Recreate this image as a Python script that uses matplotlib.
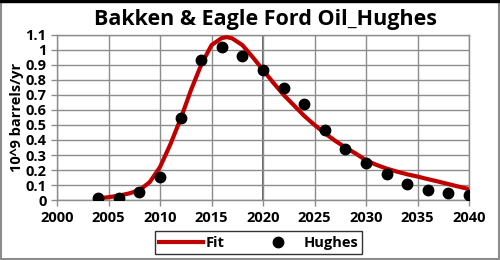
import matplotlib
matplotlib.use("Agg")
import matplotlib.pyplot as plt
from matplotlib.patches import Rectangle

# Hughes forecast points
hughes_years = [2004, 2006, 2008, 2010, 2012, 2014, 2016, 2018, 2020, 2022,
                2024, 2026, 2028, 2030, 2032, 2034, 2036, 2038, 2040]
hughes_vals = [0.015, 0.017, 0.055, 0.155, 0.545, 0.93, 1.02, 0.96, 0.865, 0.748,
               0.638, 0.466, 0.339, 0.25, 0.173, 0.108, 0.07, 0.05, 0.035]

# fitted curve
fit_years = [2004, 2005, 2006, 2007, 2008, 2009, 2010, 2011, 2012, 2013,
             2014, 2015, 2016, 2016.5, 2017, 2018, 2019, 2020, 2021, 2022,
             2023, 2024, 2025, 2026, 2027, 2028, 2029, 2030, 2031, 2032,
             2033, 2034, 2035, 2036, 2037, 2038, 2039, 2040]
fit_vals = [0.012, 0.02, 0.03, 0.045, 0.066, 0.12, 0.22, 0.37, 0.54, 0.73,
            0.9, 1.03, 1.077, 1.083, 1.075, 1.03, 0.95, 0.865, 0.78, 0.70,
            0.63, 0.56, 0.5, 0.445, 0.395, 0.35, 0.31, 0.265, 0.235, 0.21,
            0.19, 0.172, 0.157, 0.14, 0.124, 0.107, 0.09, 0.074]

x_ticks = list(range(2000, 2041, 5))
y_ticks = [0, 0.1, 0.2, 0.3, 0.4, 0.5, 0.6, 0.7, 0.8, 0.9, 1, 1.1]

plt.rcParams["font.family"] = ["Open Sans", "DejaVu Sans"]
plt.rcParams["font.weight"] = "bold"

fig = plt.figure(figsize=(5, 2.6), dpi=100)
ax = fig.add_axes([0.114, 0.23, 0.824, 0.637])

grid_c = "#8c8c8c"
ax.set_xlim(2000, 2040)
ax.set_ylim(0, 1.1)
ax.set_xticks(x_ticks)
ax.set_yticks(y_ticks)
ax.set_yticklabels([f"{v:g}" for v in y_ticks])
ax.grid(True, color=grid_c, linewidth=1)
ax.axvline(2020, color="#555555", linewidth=1.3, zorder=1)
for s in ax.spines.values():
    s.set_color(grid_c)
    s.set_linewidth(1)
ax.tick_params(colors=grid_c, length=4, width=1, labelcolor="black", labelsize=10.5)
for lab in ax.get_xticklabels() + ax.get_yticklabels():
    lab.set_fontweight("bold")

ax.plot(fit_years, fit_vals, color="#C00000", linewidth=3, label="Fit", zorder=3)
ax.plot(hughes_years, hughes_vals, "o", color="black", markersize=7.5,
        label="Hughes", zorder=4)

ax.set_ylabel("10^9 barrels/yr", fontsize=10.5, fontweight="bold", labelpad=1)
fig.text(0.53, 0.925, "Bakken & Eagle Ford Oil_Hughes", ha="center", va="center",
         fontsize=15.5, fontweight="bold")

leg = fig.legend(loc="lower center", bbox_to_anchor=(0.517, -0.005), ncol=2,
                 frameon=True, fancybox=False, fontsize=10.5, handlelength=3.0,
                 columnspacing=2.2, borderpad=0.3, handletextpad=0.2)
leg.get_frame().set_edgecolor("black")
leg.get_frame().set_linewidth(1)

fig.patches.append(Rectangle((0.002, 0.004), 0.995, 0.99, transform=fig.transFigure,
                             fill=False, edgecolor="#8c8c8c", linewidth=1.5))
fig.patches.append(Rectangle((0, 0.992), 1, 0.008, transform=fig.transFigure,
                             color="black"))

fig.savefig("out.png", dpi=100)
